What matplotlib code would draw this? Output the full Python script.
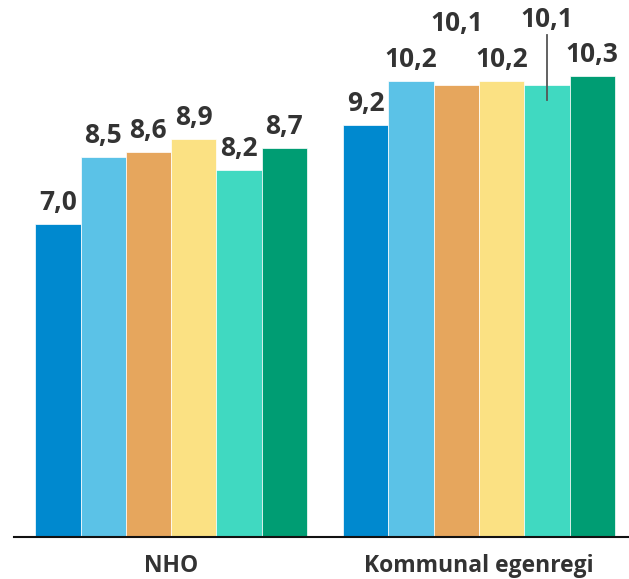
import numpy as np
import matplotlib.pyplot as plt

groups = ["NHO", "Kommunal egenregi"]
series_colors = ["#0089CF", "#5BC2E7", "#E6A65D", "#FBE183", "#40D9C1", "#009D73"]
nho = [7.0, 8.5, 8.6, 8.9, 8.2, 8.7]
kommunal = [9.2, 10.2, 10.1, 10.2, 10.1, 10.3]
values = np.array([nho, kommunal])

plt.rcParams['font.family'] = ['Open Sans', 'DejaVu Sans']

fig = plt.figure(figsize=(6.29, 5.79), dpi=100)
ax = fig.add_axes([14/629, 42/579, 1 - 14/629, 537/579])

w = 0.147
n = len(series_colors)
x = np.arange(len(groups))

# label offsets in pixels above bar top (raised ones get a leader line)
raise_px = {(1, 2): 48, (1, 4): 52}

for i in range(n):
    xs = x + (i - (n - 1) / 2) * w
    ax.bar(xs, values[:, i], width=w, color=series_colors[i], edgecolor='white', linewidth=0.5)
    for g in range(len(groups)):
        v = values[g, i]
        off = raise_px.get((g, i), 8)
        ax.annotate(f"{v:.1f}".replace('.', ','), (xs[g], v), xytext=(0, off),
                    textcoords='offset pixels', ha='center', va='bottom',
                    fontsize=19, fontweight='bold', color='#333333')
        if (g, i) == (1, 4):
            ax.plot([xs[g], xs[g]], [v - 15/44.7, v + 50/44.7], color='#555555', lw=1.3)

ax.set_xlim(-0.51, 1.487)
ax.set_ylim(0, 12.0)
ax.set_xticks(x)
ax.set_xticklabels(groups, fontsize=16.5, fontweight='bold', color='#333333')
ax.tick_params(axis='x', length=0, pad=12)
ax.set_yticks([])
for s in ['top', 'left', 'right']:
    ax.spines[s].set_visible(False)
ax.spines['bottom'].set_linewidth(1.5)
ax.spines['bottom'].set_color('#111111')

fig.savefig("out.png", dpi=100)
